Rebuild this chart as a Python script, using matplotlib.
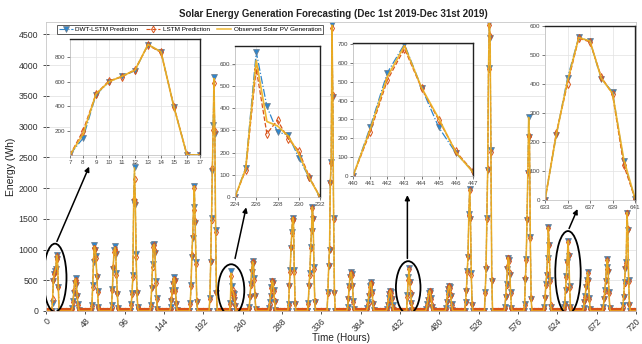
import numpy as np
import matplotlib.pyplot as plt
from matplotlib.patches import Ellipse

plt.rcParams['font.family'] = ['Liberation Sans', 'DejaVu Sans']

# ---- data: hourly energy (Wh), 30 days; daylight hours 7..17 of each day ----
day_hours = list(range(7, 18))

obs_days = [
    [0, 170, 500, 600, 645, 695, 905, 845, 390, 0, 0],
    [0, 40, 150, 320, 470, 520, 440, 250, 100, 20, 0],
    [0, 90, 400, 820, 1050, 1000, 880, 560, 320, 60, 0],
    [0, 80, 350, 700, 980, 1030, 950, 600, 280, 50, 0],
    [0, 110, 290, 560, 1800, 2330, 1750, 900, 300, 60, 0],
    [0, 90, 380, 740, 1060, 1080, 960, 470, 200, 30, 0],
    [0, 50, 180, 330, 450, 540, 500, 330, 120, 20, 0],
    [0, 120, 420, 900, 1200, 1670, 2030, 1450, 780, 150, 0],
    [0, 200, 800, 1500, 2300, 3000, 3780, 2900, 1300, 300, 0],
    [0, 0, 125, 615, 340, 320, 275, 195, 85, 0, 0],
    [0, 60, 230, 430, 650, 800, 780, 520, 250, 40, 0],
    [0, 40, 130, 250, 380, 490, 460, 330, 150, 20, 0],
    [0, 100, 420, 650, 1030, 1280, 1520, 1470, 650, 120, 0],
    [0, 120, 420, 600, 1030, 1310, 1690, 1500, 700, 150, 0],
    [0, 300, 730, 1000, 2090, 2430, 4650, 3500, 1500, 300, 0],
    [0, 50, 200, 400, 560, 630, 590, 420, 160, 30, 0],
    [0, 40, 130, 260, 400, 470, 430, 300, 120, 20, 0],
    [0, 30, 100, 200, 290, 330, 300, 200, 80, 10, 0],
    [0, 0, 245, 525, 690, 468, 305, 125, 20, 0, 0],
    [0, 30, 100, 190, 280, 330, 300, 200, 80, 10, 0],
    [0, 40, 150, 280, 360, 410, 380, 250, 100, 20, 0],
    [0, 145, 330, 650, 890, 1570, 1980, 1500, 600, 100, 0],
    [0, 300, 700, 1500, 2300, 3960, 4680, 4460, 2600, 500, 0],
    [0, 60, 230, 430, 700, 870, 820, 600, 300, 50, 0],
    [0, 100, 520, 840, 1490, 2250, 3150, 2840, 1200, 200, 0],
    [0, 60, 215, 430, 590, 860, 1360, 1075, 500, 80, 0],
    [0, 50, 100, 350, 560, 800, 1140, 900, 400, 60, 0],
    [0, 40, 150, 240, 400, 490, 630, 500, 200, 30, 0],
    [0, 60, 200, 330, 500, 700, 840, 650, 300, 50, 0],
    [0, 80, 240, 460, 700, 790, 1600, 1330, 500, 100, 0],
]

dwt_days = [
    [5, 137, 493, 600, 644, 690, 904, 844, 392, 0, 0],
    [0, 50, 170, 300, 460, 540, 430, 240, 110, 20, 0],
    [0, 100, 420, 800, 1080, 990, 900, 550, 330, 60, 0],
    [0, 90, 360, 690, 1000, 1050, 930, 620, 270, 50, 0],
    [0, 120, 300, 580, 1780, 2350, 1720, 920, 290, 60, 0],
    [0, 100, 370, 760, 1070, 1090, 940, 480, 210, 30, 0],
    [0, 60, 170, 340, 440, 550, 490, 340, 110, 20, 0],
    [0, 130, 430, 880, 1190, 1690, 2040, 1430, 790, 140, 0],
    [0, 210, 790, 1520, 2280, 3020, 3800, 2880, 1320, 290, 0],
    [0, 0, 130, 654, 408, 292, 280, 177, 85, 0, 0],
    [0, 70, 220, 440, 640, 810, 770, 530, 240, 40, 0],
    [0, 50, 140, 240, 390, 490, 450, 340, 140, 20, 0],
    [0, 110, 410, 660, 1020, 1290, 1520, 1460, 660, 110, 0],
    [0, 130, 410, 610, 1040, 1300, 1690, 1490, 720, 140, 0],
    [0, 310, 730, 1000, 2080, 2430, 4660, 3480, 1510, 290, 0],
    [0, 60, 190, 410, 550, 630, 600, 410, 170, 30, 0],
    [0, 50, 140, 250, 410, 470, 420, 310, 110, 20, 0],
    [0, 40, 90, 210, 280, 330, 310, 190, 90, 10, 0],
    [0, 0, 258, 547, 699, 468, 258, 122, 23, 0, 0],
    [0, 40, 110, 180, 290, 330, 290, 210, 70, 10, 0],
    [0, 50, 140, 290, 350, 410, 390, 240, 110, 20, 0],
    [0, 150, 330, 650, 880, 1570, 1980, 1490, 610, 100, 0],
    [0, 310, 690, 1510, 2290, 3960, 4690, 4440, 2620, 490, 0],
    [0, 70, 220, 440, 690, 870, 830, 590, 310, 50, 0],
    [0, 110, 510, 850, 1480, 2240, 3150, 2830, 1210, 190, 0],
    [0, 70, 210, 440, 580, 870, 1360, 1070, 510, 70, 0],
    [0, 60, 110, 340, 570, 800, 1140, 890, 410, 60, 0],
    [0, 50, 140, 250, 390, 500, 630, 490, 210, 30, 0],
    [0, 70, 190, 340, 490, 710, 840, 640, 310, 50, 0],
    [0, 90, 230, 470, 690, 790, 1600, 1320, 510, 90, 0],
]

lstm_days = [
    [0, 197, 500, 608, 640, 700, 900, 840, 395, 0, 0],
    [0, 30, 140, 340, 480, 500, 450, 260, 90, 20, 0],
    [0, 80, 390, 840, 1030, 1010, 870, 570, 310, 60, 0],
    [0, 70, 340, 710, 960, 1010, 960, 590, 290, 50, 0],
    [0, 100, 280, 550, 1820, 2150, 1780, 880, 310, 60, 0],
    [0, 80, 390, 720, 1040, 1070, 970, 460, 190, 30, 0],
    [0, 40, 190, 320, 460, 520, 510, 320, 130, 20, 0],
    [0, 110, 410, 910, 1220, 1650, 2000, 1470, 770, 160, 0],
    [0, 190, 810, 1480, 2320, 2950, 3700, 2930, 1290, 310, 0],
    [0, 0, 120, 577, 285, 346, 262, 208, 90, 0, 0],
    [0, 50, 240, 420, 660, 790, 790, 510, 260, 40, 0],
    [0, 30, 120, 260, 370, 480, 470, 320, 160, 20, 0],
    [0, 90, 430, 640, 1040, 1270, 1500, 1480, 640, 130, 0],
    [0, 110, 430, 590, 1020, 1320, 1670, 1510, 690, 160, 0],
    [0, 290, 740, 1010, 2100, 2400, 4600, 3520, 1490, 310, 0],
    [0, 40, 210, 390, 570, 620, 580, 430, 150, 30, 0],
    [0, 30, 120, 270, 390, 460, 440, 290, 130, 20, 0],
    [0, 20, 110, 190, 300, 320, 290, 210, 70, 10, 0],
    [0, 0, 232, 507, 675, 465, 297, 130, 25, 0, 0],
    [0, 20, 90, 200, 270, 320, 310, 190, 90, 10, 0],
    [0, 30, 160, 270, 370, 400, 370, 260, 90, 20, 0],
    [0, 140, 340, 640, 900, 1560, 1960, 1510, 590, 110, 0],
    [0, 290, 710, 1490, 2310, 3940, 4650, 4470, 2580, 510, 0],
    [0, 50, 240, 420, 710, 860, 810, 610, 290, 50, 0],
    [0, 90, 530, 830, 1500, 2260, 2840, 2850, 1190, 210, 0],
    [0, 50, 220, 420, 600, 850, 1350, 1080, 490, 90, 0],
    [0, 40, 90, 360, 550, 790, 1130, 910, 390, 60, 0],
    [0, 30, 160, 230, 410, 480, 620, 510, 190, 30, 0],
    [0, 50, 210, 320, 510, 690, 830, 660, 290, 50, 0],
    [0, 70, 250, 450, 710, 780, 1590, 1340, 490, 110, 0],
]

n_days = len(obs_days)
hours = np.arange(24 * n_days)


def to_hourly(days):
    series = np.zeros(24 * n_days)
    for d, vals in enumerate(days):
        for h, v in zip(day_hours, vals):
            series[24 * d + h] = v
    return series


observed = to_hourly(obs_days)
dwt_lstm = to_hourly(dwt_days)
lstm = to_hourly(lstm_days)

# zoom windows (hour ranges) shown in the insets
zoom_windows = [(7, 17), (224, 232), (440, 447)]
zoom_ticks = [list(range(7, 18)), [224, 226, 228, 230, 232], list(range(440, 448))]
zoom_ylims = [(0, 950), (0, 680), (0, 705)]
zoom_yticks = [[200, 400, 600, 800], [0, 100, 200, 300, 400, 500, 600],
               [0, 100, 200, 300, 400, 500, 600, 700]]

# fourth inset has its own series
inset4_hours = [633, 634, 635, 636, 637, 638, 639, 640, 641]
inset4_tick_labels = [633, 635, 637, 639, 641]
inset4_obs = [0, 225, 410, 560, 548, 420, 368, 140, 5]
inset4_dwt = [0, 223, 420, 562, 547, 417, 373, 133, 5]
inset4_lstm = [0, 230, 400, 558, 545, 425, 365, 120, 5]

x_ticks = list(range(0, 721, 48))
y_ticks = list(range(0, 4501, 500))

C_DWT = '#2F86CC'
C_DWT_EDGE = '#6C7A88'
C_LSTM = '#D95319'
C_OBS = '#EDB120'


def draw_series(ax, x, dwt, ls, ob, ms_scale=1.0, lw=0.8):
    h1, = ax.plot(x, dwt, color=C_DWT, ls='-.', lw=lw, marker='v', ms=4.0 * ms_scale,
                  mfc=C_DWT, mec=C_DWT_EDGE, mew=0.5, label='DWT-LSTM Prediction')
    h2, = ax.plot(x, ls, color=C_LSTM, ls='--', lw=lw, marker='d', ms=3.4 * ms_scale,
                  mfc='none', mec=C_LSTM, mew=0.7, label='LSTM Prediction')
    h3, = ax.plot(x, ob, color=C_OBS, lw=lw * 1.4, alpha=0.9,
                  label='Observed Solar PV Generation')
    return [h1, h2, h3]


W, H = 642, 344
fig = plt.figure(figsize=(W / 100, H / 100), dpi=100)


def px_axes(left, top, right, bottom):
    return fig.add_axes([left / W, 1 - bottom / H, (right - left) / W, (bottom - top) / H])


ax = px_axes(46, 22, 636, 311)
handles = draw_series(ax, hours, dwt_lstm, lstm, observed)
ax.set_xlim(0, 720)
ax.set_ylim(0, 4700)
ax.set_xticks(x_ticks)
ax.set_xticklabels([str(t) for t in x_ticks], rotation=45, ha='right', rotation_mode='anchor')
ax.set_yticks(y_ticks)
ax.tick_params(axis='both', labelsize=6.3, colors='#333333', direction='inout', length=4, width=0.6)
ax.tick_params(axis='x', pad=2)
ax.grid(axis='y', color='#e4e4e4', lw=0.6)
ax.set_axisbelow(True)
for s in ax.spines.values():
    s.set_color('#c8c8c8')
    s.set_linewidth(0.6)
ax.set_xlabel('Time (Hours)', fontsize=7.2, color='#222222', labelpad=0)
ax.set_ylabel('Energy (Wh)', fontsize=7.5, color='#222222', labelpad=2)
fig.text(0.52, 1 - 14 / H, 'Solar Energy Generation Forecasting (Dec 1st 2019-Dec 31st 2019)',
         ha='center', va='center', fontsize=7, fontweight='bold', color='#222222')

# ellipses around the zoomed days (hour centre, value centre, width, height)
ellipses = [(11, 540, 28, 1110), (226, 340, 32, 840), (442, 380, 30, 860), (637, 625, 31, 1350)]
for cx, cy, w, h in ellipses:
    ax.add_patch(Ellipse((cx, cy), w, h, fill=False, ec='black', lw=1.3, zorder=6))

# arrows from the ellipses to the insets
arrows = [((12, 1090), (54, 2390)), ((230, 810), (245, 1730)),
          ((441, 810), (441, 1930)), ((637, 1300), (650, 1700))]
for (tx, ty), (hx, hy) in arrows:
    ax.annotate('', xy=(hx, hy), xytext=(tx, ty),
                arrowprops=dict(arrowstyle='-|>', color='black', lw=1.1, mutation_scale=7),
                zorder=7)

# insets
inset_boxes = [(70, 39, 200, 155), (235, 46, 320, 197), (353, 43, 473, 176)]
for (x0, x1), ticks, yl, yt, box in zip(zoom_windows, zoom_ticks, zoom_ylims, zoom_yticks, inset_boxes):
    ia = px_axes(*box)
    sl = slice(x0, x1 + 1)
    draw_series(ia, hours[sl], dwt_lstm[sl], lstm[sl], observed[sl], ms_scale=1.1, lw=0.9)
    ia.set_xlim(x0, x1)
    ia.set_ylim(*yl)
    ia.set_xticks(ticks)
    ia.set_yticks(yt)
    ia.tick_params(labelsize=4.5, colors='#444444', length=2, width=0.5, pad=1.5)
    ia.grid(color='#e2e2e2', lw=0.5)
    for side, s in ia.spines.items():
        s.set_color('#222222' if side in ('top', 'right') else '#bbbbbb')
        s.set_linewidth(1.0 if side in ('top', 'right') else 0.5)

ia4 = px_axes(545, 26, 635, 200)
draw_series(ia4, inset4_hours, inset4_dwt, inset4_lstm, inset4_obs, ms_scale=1.1, lw=0.9)
ia4.set_xlim(inset4_hours[0], inset4_hours[-1])
ia4.set_ylim(0, 600)
ia4.set_xticks(inset4_tick_labels)
ia4.set_yticks([0, 100, 200, 300, 400, 500, 600])
ia4.tick_params(labelsize=4.5, colors='#444444', length=2, width=0.5, pad=1.5)
ia4.grid(color='#e2e2e2', lw=0.5)
for side, s in ia4.spines.items():
    s.set_color('#222222' if side in ('top', 'right') else '#bbbbbb')
    s.set_linewidth(1.0 if side in ('top', 'right') else 0.5)

leg = fig.legend(handles=handles, loc='upper left', bbox_to_anchor=(57 / W, 1 - 25 / H),
                 ncol=3, fontsize=4.6, frameon=True, fancybox=False, edgecolor='#333333',
                 handlelength=2.2, columnspacing=1.2, handletextpad=0.4, borderpad=0.25,
                 borderaxespad=0)
leg.get_frame().set_linewidth(0.7)

fig.savefig('out.png', dpi=100)
